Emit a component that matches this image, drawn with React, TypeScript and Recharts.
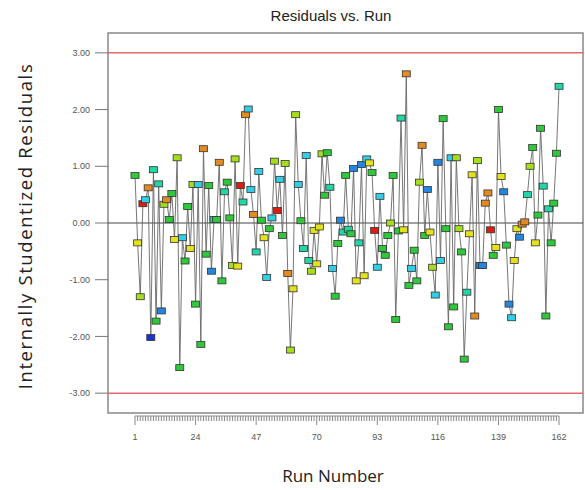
import React from "react";
import {
  ComposedChart,
  Line,
  ReferenceArea,
  ReferenceLine,
  XAxis,
  YAxis,
} from "recharts";

// run order 1..162
const runs = Array.from({ length: 162 }, (_, i) => i + 1);

const residuals = [
  0.84, -0.35, -1.3, 0.34, 0.41, 0.62, -2.02, 0.94, -1.73, 0.69,
  -1.55, 0.33, 0.41, 0.06, 0.52, -0.29, 1.15, -2.55, -0.26, -0.67,
  0.29, -0.45, 0.68, -1.43, 0.68, -2.14, 1.31, -0.55, 0.66, -0.85,
  0.06, 0.06, 1.07, -1.02, 0.55, 0.72, 0.09, -0.75, 1.13, -0.76,
  0.66, 0.37, 1.91, 2.01, 0.59, 0.15, -0.51, 0.91, 0.05, -0.26,
  -0.96, -0.1, 0.09, 1.09, 0.22, 0.77, -0.22, 1.05, -0.89, -2.24,
  -1.16, 1.91, 0.68, 0.04, -0.45, 1.19, -0.66, -0.85, -0.13, -0.72,
  -0.07, 1.22, 0.49, 1.24, 0.63, -0.8, -1.29, -0.36, 0.05, -0.16,
  0.84, -0.11, -0.19, 0.96, -1.02, -0.35, 1.03, -0.93, 1.13, 1.06,
  0.89, -0.13, -0.78, 0.47, -0.45, -0.57, -0.22, 0.0, 0.84, -1.7,
  -0.14, 1.85, -0.12, 2.63, -1.1, -0.8, -0.48, -1.02, 0.72, 1.37,
  -0.22, 0.59, -0.16, -0.78, -1.27, 1.07, -0.66, 1.84, -0.1, -1.83,
  1.15, -1.48, 1.15, -0.1, -0.51, -2.4, -1.22, -0.19, 0.85, -1.64,
  1.1, -0.75, -0.75, 0.35, 0.53, -0.12, -0.57, -0.43, 2.0, 0.82,
  0.55, -0.39, -1.43, -1.67, -0.66, -0.1, -0.25, -0.02, 0.02, 0.5,
  1.0, 1.33, -0.35, 0.14, 1.67, 0.65, -1.64, 0.25, -0.35, 0.35,
  1.23, 2.41,
];

// colour level of each run's marker (0 = low ... 8 = high)
const levels = [
  4, 6, 5, 8, 2, 7, 0, 3, 4, 3,
  1, 5, 7, 4, 4, 6, 5, 4, 2, 4,
  4, 6, 5, 4, 2, 4, 7, 4, 4, 1,
  3, 4, 7, 4, 3, 4, 4, 5, 5, 6,
  8, 3, 7, 2, 2, 7, 3, 2, 4, 6,
  2, 4, 2, 5, 8, 2, 4, 5, 7, 5,
  6, 5, 2, 4, 3, 2, 3, 5, 6, 6,
  6, 5, 4, 4, 3, 2, 4, 4, 1, 3,
  4, 3, 4, 1, 6, 3, 1, 6, 2, 6,
  4, 8, 2, 2, 4, 4, 4, 5, 4, 4,
  4, 3, 6, 7, 4, 2, 4, 4, 5, 7,
  4, 1, 6, 5, 2, 1, 2, 4, 4, 4,
  2, 4, 5, 5, 4, 4, 3, 6, 6, 7,
  5, 1, 1, 7, 7, 8, 4, 6, 4, 6,
  1, 4, 1, 2, 6, 6, 1, 7, 7, 3,
  5, 4, 6, 4, 4, 3, 4, 3, 4, 4,
  4, 3,
];

const majorRuns = [1, 24, 47, 70, 93, 116, 139, 162];
const yTicks = [-3, -2, -1, 0, 1, 2, 3];

const levelColors = [
  "#1a34d0",
  "#2486dc",
  "#32cde6",
  "#22d6a6",
  "#2ec83a",
  "#a6de1c",
  "#e4e21e",
  "#e48a22",
  "#e01c10",
];

const data = runs.map((run, i) => ({
  run,
  residual: residuals[i],
  level: levels[i],
}));

const X_MIN = -9.25;
const X_MAX = 171.1;
const Y_LIM = 3.35;

const RunTick = (props: any) => {
  const { x, y, payload } = props;
  const v = payload.value;
  const major = majorRuns.includes(v);
  return (
    <g>
      <line
        x1={v === 1 ? x : x - 1.32}
        x2={v === 162 ? x : x + 1.32}
        y1={y + 3}
        y2={y + 3}
        stroke="#888"
      />
      <line x1={x} x2={x} y1={y + 3} y2={y + (major ? 12 : 8)} stroke="#888" />
      {major && (
        <text
          x={x}
          y={y + 27}
          textAnchor="middle"
          fontSize={9}
          fill="#555"
          fontFamily="Liberation Sans, Arial, sans-serif"
        >
          {v}
        </text>
      )}
    </g>
  );
};

const RunMarker = (props: any) => {
  const { cx, cy, payload } = props;
  if (cx == null || cy == null) return <g />;
  return (
    <rect
      x={cx - 4}
      y={cy - 3}
      width={8}
      height={6}
      fill={levelColors[payload.level]}
      stroke="#333"
      strokeWidth={0.8}
    />
  );
};

export default function App() {
  return (
    <div
      style={{
        position: "absolute",
        left: 0,
        top: 0,
        width: 585,
        height: 490,
        background: "#fff",
        fontFamily: "'Open Sans', sans-serif",
      }}
    >
      <div
        style={{
          position: "absolute",
          left: 231,
          width: 200,
          top: 7,
          textAlign: "center",
          fontFamily: "'Liberation Sans', Arial, sans-serif",
          fontSize: 15,
          color: "#222",
        }}
      >
        Residuals vs. Run
      </div>
      <div
        style={{
          position: "absolute",
          left: 25,
          top: 226,
          width: 400,
          marginLeft: -200,
          marginTop: -12,
          height: 24,
          lineHeight: "24px",
          textAlign: "center",
          transform: "rotate(-90deg)",
          fontSize: 18.5,
          letterSpacing: 1.6,
          color: "#222",
        }}
      >
        Internally Studentized Residuals
      </div>
      <div
        style={{
          position: "absolute",
          left: 233,
          width: 200,
          top: 464,
          textAlign: "center",
          fontSize: 17,
          color: "#222",
        }}
      >
        Run Number
      </div>
      <ComposedChart
        width={585}
        height={490}
        data={data}
        margin={{ top: 33, right: 2, bottom: 0, left: 0 }}
        style={{ position: "absolute", left: 0, top: 0 }}
      >
        <XAxis
          dataKey="run"
          type="number"
          domain={[X_MIN, X_MAX]}
          allowDataOverflow
          ticks={runs}
          interval={0}
          tick={<RunTick />}
          tickSize={0}
          tickMargin={0}
          tickLine={false}
          axisLine={false}
          height={77}
        />
        <YAxis
          type="number"
          domain={[-Y_LIM, Y_LIM]}
          allowDataOverflow
          ticks={yTicks}
          interval={0}
          width={108}
          tickSize={13}
          tickMargin={5}
          tickLine={{ stroke: "#777" }}
          axisLine={false}
          tickFormatter={(v: number) => v.toFixed(2)}
          tick={{
            fontSize: 9,
            fill: "#555",
            fontFamily: "Liberation Sans, Arial, sans-serif",
          }}
        />
        <ReferenceArea
          x1={X_MIN}
          x2={X_MAX}
          y1={-Y_LIM}
          y2={Y_LIM}
          fill="none"
          stroke="#888"
          strokeWidth={1.5}
          ifOverflow="visible"
        />
        <ReferenceLine y={3} stroke="#e46a6a" strokeWidth={1.5} />
        <ReferenceLine y={-3} stroke="#e46a6a" strokeWidth={1.5} />
        <ReferenceLine y={0} stroke="#444" strokeWidth={1} />
        <Line
          dataKey="residual"
          type="linear"
          stroke="#666"
          strokeWidth={0.9}
          dot={(p: any) => <RunMarker {...p} key={p.index} />}
          activeDot={false}
          isAnimationActive={false}
        />
      </ComposedChart>
    </div>
  );
}
